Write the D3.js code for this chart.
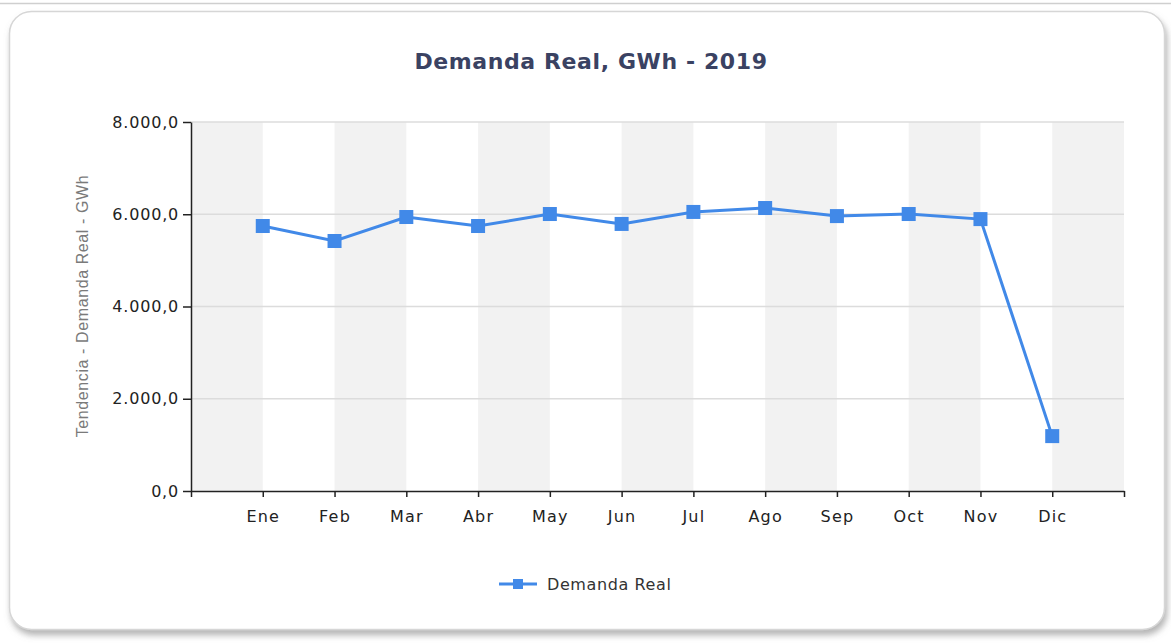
<!DOCTYPE html>
<html>
<head>
<meta charset="utf-8">
<script src="https://cdn.jsdelivr.net/npm/d3@7"></script>
<style>
  body { margin: 0; background: #fff; }
  text { font-family: "DejaVu Sans", Verdana, sans-serif; }
</style>
</head>
<body>
<div id="chart"></div>
<script>
// data
var months = ["Ene", "Feb", "Mar", "Abr", "May", "Jun", "Jul", "Ago", "Sep", "Oct", "Nov", "Dic"];
var demanda = [5745, 5420, 5940, 5745, 6005, 5790, 6050, 6135, 5960, 6005, 5895, 1190];
var yTicks = [0, 2000, 4000, 6000, 8000];

var W = 1171, H = 643;
var margin = { top: 122, right: 47, bottom: 152, left: 191 },
    width = W - margin.left - margin.right,
    height = H - margin.top - margin.bottom;

var svg = d3.select("#chart").append("svg")
    .attr("width", W)
    .attr("height", H);

var defs = svg.append("defs");
var f = defs.append("filter").attr("id", "shadow")
    .attr("x", "-5%").attr("y", "-5%").attr("width", "110%").attr("height", "115%");
f.append("feDropShadow")
    .attr("dx", 2).attr("dy", 5).attr("stdDeviation", 3)
    .attr("flood-color", "#777").attr("flood-opacity", 0.55);

// thin line at the top of the page
svg.append("line")
    .attr("x1", 0).attr("x2", W)
    .attr("y1", 3.5).attr("y2", 3.5)
    .attr("stroke", "#cfcfcf").attr("stroke-width", 1.5);

// panel
svg.append("rect")
    .attr("x", 9.5).attr("y", 11.5)
    .attr("width", 1155).attr("height", 618)
    .attr("rx", 22).attr("ry", 22)
    .attr("fill", "#fff")
    .attr("stroke", "#d6d6d6")
    .attr("stroke-width", 1.5)
    .attr("filter", "url(#shadow)");

var g = svg.append("g")
    .attr("transform", "translate(" + margin.left + "," + margin.top + ")");

var x = d3.scaleLinear()
    .domain([0, months.length + 1])
    .range([0, width]);

var y = d3.scaleLinear()
    .domain([0, 8000])
    .range([height, 0]);

// alternating stripes
var stripes = d3.range(0, months.length + 1).filter(function (i) { return i % 2 === 0; });
g.selectAll("rect.stripe").data(stripes)
    .enter().append("rect")
    .attr("class", "stripe")
    .attr("x", function (i) { return x(i); })
    .attr("y", 0)
    .attr("width", function (i) { return x(i + 1) - x(i); })
    .attr("height", height)
    .attr("fill", "#f2f2f2");

// horizontal grid
g.selectAll("line.grid").data(yTicks.slice(1))
    .enter().append("line")
    .attr("class", "grid")
    .attr("x1", 0).attr("x2", width)
    .attr("y1", function (d) { return y(d); })
    .attr("y2", function (d) { return y(d); })
    .attr("stroke", "#dcdcdc")
    .attr("stroke-width", 1.5);

var fmt = function (d) {
    return d3.format(",.1f")(d).replace(/,/g, "#").replace(".", ",").replace(/#/g, ".");
};

var yAxis = d3.axisLeft(y)
    .tickValues(yTicks)
    .tickFormat(fmt)
    .tickSize(8)
    .tickPadding(4)
    .tickSizeOuter(0);

var xAxis = d3.axisBottom(x)
    .tickValues(d3.range(0, months.length + 2))
    .tickFormat(function (i) { return months[i - 1] || ""; })
    .tickSize(6)
    .tickPadding(14)
    .tickSizeOuter(0);

var yAxisG = g.append("g").call(yAxis);
var xAxisG = g.append("g")
    .attr("transform", "translate(0," + height + ")")
    .call(xAxis);

yAxisG.select(".domain").attr("stroke", "#222").attr("stroke-width", 1.5);
yAxisG.selectAll(".tick line").attr("stroke", "#222").attr("stroke-width", 1.5);
yAxisG.selectAll(".tick text")
    .style("font-size", "16px")
    .style("letter-spacing", "0.8px")
    .attr("fill", "#222");

xAxisG.select(".domain").attr("stroke", "#222").attr("stroke-width", 1.5);
xAxisG.selectAll(".tick line").attr("stroke", "#222").attr("stroke-width", 1.5);
xAxisG.selectAll(".tick text")
    .style("font-size", "16px")
    .style("letter-spacing", "1.2px")
    .attr("fill", "#222");

// y axis title
svg.append("text")
    .attr("transform", "translate(88,306) rotate(-90)")
    .attr("text-anchor", "middle")
    .style("font-family", "'Liberation Sans', Arial, sans-serif")
    .style("font-size", "16px")
    .style("letter-spacing", "0.6px")
    .attr("fill", "#7a7a7a")
    .text("Tendencia - Demanda Real - GWh");

// title
svg.append("text")
    .attr("x", 591)
    .attr("y", 69)
    .attr("text-anchor", "middle")
    .style("font-size", "22px")
    .style("font-weight", "bold")
    .style("letter-spacing", "0.6px")
    .attr("fill", "#3a4262")
    .text("Demanda Real, GWh - 2019");

// series
var lineColor = "#4189e8";
var line = d3.line()
    .x(function (d, i) { return x(i + 1); })
    .y(function (d) { return y(d); });

g.append("path")
    .datum(demanda)
    .attr("d", line)
    .attr("fill", "none")
    .attr("stroke", lineColor)
    .attr("stroke-width", 3);

var ms = 14;
g.selectAll("rect.marker").data(demanda)
    .enter().append("rect")
    .attr("class", "marker")
    .attr("x", function (d, i) { return x(i + 1) - ms / 2; })
    .attr("y", function (d) { return y(d) - ms / 2; })
    .attr("width", ms)
    .attr("height", ms)
    .attr("fill", lineColor);

// legend
var leg = svg.append("g").attr("transform", "translate(499,584)");
leg.append("line")
    .attr("x1", 0).attr("x2", 38)
    .attr("stroke", lineColor).attr("stroke-width", 3);
leg.append("rect")
    .attr("x", 14).attr("y", -5)
    .attr("width", 10).attr("height", 10)
    .attr("fill", lineColor);
leg.append("text")
    .attr("x", 48).attr("y", 6)
    .style("font-size", "16px")
    .style("letter-spacing", "0.6px")
    .attr("fill", "#333")
    .text("Demanda Real");
</script>
</body>
</html>
